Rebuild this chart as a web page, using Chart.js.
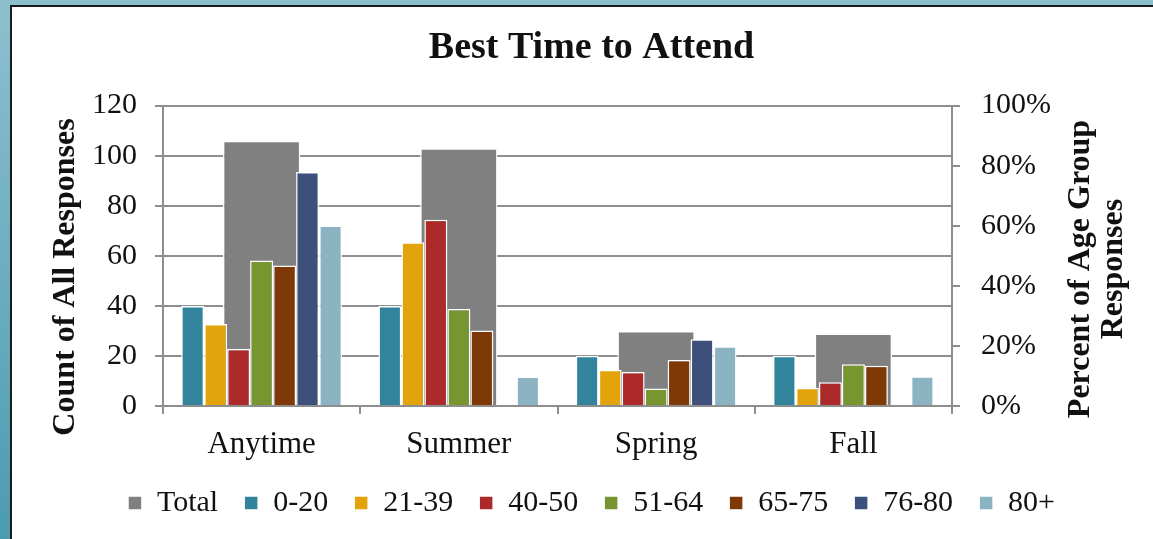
<!DOCTYPE html>
<html>
<head>
<meta charset="utf-8">
<script src="https://cdn.jsdelivr.net/npm/chart.js@4.4.1/dist/chart.umd.min.js"></script>
<style>
  html, body { margin: 0; padding: 0; width: 1153px; height: 539px; overflow: hidden; }
  body { background: linear-gradient(to bottom, #8dc0cf, #4c9bb1); position: relative; }
  #frame { position: absolute; left: 10px; top: 5px; width: 1160px; height: 560px;
           border-left: 2px solid #1b1b1b; border-top: 2px solid #1b1b1b; background: #fff; }
  #grafico { position: absolute; left: 0; top: 0; }
</style>
</head>
<body>
<div id="frame"></div>
<canvas id="grafico" width="1153" height="539"></canvas>
<script>
// categorias e valores
const categorias = ["Anytime", "Summer", "Spring", "Fall"];
const totalRespostas = [106, 103, 30, 29];

const faixas = ["0-20", "21-39", "40-50", "51-64", "65-75", "76-80", "80+"];
const pct0a20 = [33.3, 33.3, 16.7, 16.7];
const pct21a39 = [27.3, 54.5, 12.1, 6.1];
const pct40a50 = [19.0, 62.0, 11.3, 7.9];
const pct51a64 = [48.4, 32.3, 5.8, 13.9];
const pct65a75 = [46.8, 25.1, 15.3, 13.4];
const pct76a80 = [77.9, 0, 22.2, 0];
const pct80mais = [60.1, 9.8, 19.9, 9.9];

const ticksContagem = [0, 20, 40, 60, 80, 100, 120];
const ticksPercent = [0, 20, 40, 60, 80, 100];

const coresFaixas = ["#31849b", "#e3a30b", "#ad2a2a", "#77962f", "#7f3906", "#3d4f7b", "#8cb3c2"];
const valoresFaixas = [pct0a20, pct21a39, pct40a50, pct51a64, pct65a75, pct76a80, pct80mais];

const corGrade = "#8e8e8e";
const fonte = "'Liberation Serif', 'Times New Roman', serif";

Chart.defaults.font.family = fonte;
Chart.defaults.color = "#1a1a1a";

// titulos dos eixos desenhados a mao (o da direita le de baixo para cima)
const titulosEixos = {
  id: "titulosEixos",
  afterDraw(chart) {
    const ctx = chart.ctx;
    ctx.save();
    ctx.fillStyle = "#111";
    ctx.font = "bold 32px " + fonte;
    ctx.textAlign = "center";
    ctx.textBaseline = "middle";

    ctx.save();
    ctx.translate(66, 277);
    ctx.rotate(-Math.PI / 2);
    ctx.fillText("Count of All Responses", 0, 0);
    ctx.restore();

    ctx.save();
    ctx.translate(1081, 269);
    ctx.rotate(-Math.PI / 2);
    ctx.fillText("Percent of Age Group", 0, 0);
    ctx.fillText("Responses", 0, 33);
    ctx.restore();

    ctx.restore();
  }
};

const datasets = [{
  label: "Total",
  data: totalRespostas,
  backgroundColor: "#808080",
  borderColor: "#ffffff",
  borderWidth: 1.5,
  yAxisID: "y",
  grouped: false,
  categoryPercentage: 0.393,
  barPercentage: 1.0,
  order: 1
}];

faixas.forEach((f, i) => {
  datasets.push({
    label: f,
    data: valoresFaixas[i],
    backgroundColor: coresFaixas[i],
    borderColor: "#ffffff",
    borderWidth: 1.5,
    yAxisID: "y1",
    categoryPercentage: 0.816,
    barPercentage: 1.0,
    order: 0
  });
});

new Chart(document.getElementById("grafico").getContext("2d"), {
  type: "bar",
  data: { labels: categorias, datasets: datasets },
  plugins: [titulosEixos],
  options: {
    responsive: false,
    animation: false,
    layout: { padding: { top: 0, left: 30, right: 0, bottom: 11 } },
    plugins: {
      tooltip: { enabled: false },
      title: {
        display: true,
        text: "Best Time to Attend",
        color: "#111",
        font: { size: 38, weight: "bold" },
        padding: { top: 25, bottom: 35 }
      },
      legend: {
        position: "bottom",
        labels: {
          boxWidth: 14,
          boxHeight: 14,
          padding: 26,
          color: "#111",
          font: { size: 30 },
          sort: (a, b) => a.datasetIndex - b.datasetIndex
        }
      }
    },
    scales: {
      x: {
        type: "category",
        offset: true,
        grid: { display: true, drawOnChartArea: false, offset: true, color: corGrade, lineWidth: 2, tickLength: 8 },
        border: { color: corGrade, width: 2 },
        ticks: { font: { size: 31 }, padding: 12, color: "#111" },
        afterFit: s => { s.height = 56; }
      },
      y: {
        position: "left",
        min: 0,
        max: 120,
        afterBuildTicks: s => { s.ticks = ticksContagem.map(v => ({ value: v })); },
        grid: { color: corGrade, lineWidth: 2, tickLength: 8 },
        border: { color: corGrade, width: 2 },
        ticks: { font: { size: 30 }, padding: 18, color: "#111" },
        afterFit: s => { s.width = 133; }
      },
      y1: {
        position: "right",
        min: 0,
        max: 100,
        afterBuildTicks: s => { s.ticks = ticksPercent.map(v => ({ value: v })); },
        grid: { drawOnChartArea: false, color: corGrade, lineWidth: 2, tickLength: 8 },
        border: { color: corGrade, width: 2 },
        ticks: { font: { size: 30 }, padding: 21, color: "#111", callback: v => v + "%" },
        afterFit: s => { s.width = 201; }
      }
    }
  }
});
</script>
</body>
</html>
